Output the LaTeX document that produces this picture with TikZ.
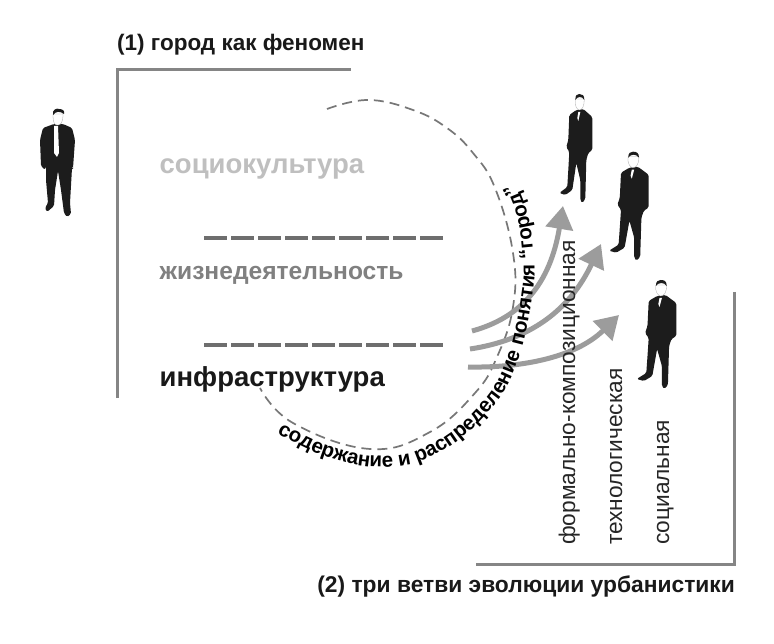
\documentclass[tikz,border=0pt]{standalone}
\usepackage{fontspec}
\setmainfont{Liberation Sans}
\usepackage{xcolor}
\usepackage{tikz}
\usetikzlibrary{arrows.meta}
\usetikzlibrary{decorations.text}
\definecolor{frameg}{HTML}{858585}
\definecolor{dashg}{HTML}{6E6E6E}
\definecolor{curveg}{HTML}{777777}
\definecolor{arrowg}{HTML}{9C9C9C}
\definecolor{suit}{HTML}{1C1C1C}
\tikzset{
	frameline/.style={draw=frameg,line width=3pt},
	dashline/.style={draw=dashg,line width=4pt,dash pattern=on 22.5pt off 4.5pt},
	dashcurve/.style={draw=curveg,line width=1.7pt,dash pattern=on 10pt off 6pt},
	flowarrow/.style={draw=arrowg,line width=5pt,-{Triangle[length=23pt,width=27pt,fill=arrowg]}},
	biglabel/.style={anchor=base west,inner sep=0pt},
	headlabel/.style={font=\fontsize{22.5}{24}\selectfont\bfseries,inner sep=0pt,text=black!90},
	sidelabel/.style={font=\fontsize{22.7}{24}\selectfont,rotate=90,anchor=base west,inner sep=0pt,text=black!85},
	mana/.pic={
		% frontal figure, white tie
		\fill[suit,rounded corners=1.5pt] (14,16) -- (3,20) -- (0,32) -- (1,58) -- (5,62) -- (6,58) -- (6,72) -- (8,95) -- (5,100) -- (7,104) -- (14,98) -- (15,82) -- (18,63)
			-- (21,82) -- (24,105) -- (27,109) -- (31,106) -- (30,95) -- (32,60) -- (33,60) -- (35,32) -- (32,20) -- (23,16) -- cycle;
		\filldraw[fill=white,draw=black!35,line width=.3pt] (13,6) .. controls (13,17) and (15,17) .. (18,17) .. controls (21,17) and (23,14) .. (23,6) -- cycle;
		\fill[suit] (13,7) .. controls (12,1) and (17,0) .. (19,1) .. controls (23,1) and (25,3) .. (24,6) .. controls (20,3) and (16,3) .. (13,7) -- cycle;
		\fill[white] (14,18) -- (18,18) -- (19,45) -- (17,49) -- (14,45) -- cycle;
	},
	manb/.pic={
		% three-quarter figure, small tie
		\fill[suit,rounded corners=1.5pt] (17,16) -- (10,21) -- (9,46) -- (7,53) -- (10,58) -- (9,76) -- (8,93) -- (0,99) -- (6,101) -- (13,96) -- (17,69) -- (21,86) -- (21,106) -- (23,109) -- (26,105)
			-- (27,66) -- (29,59) -- (33,56) -- (33,23) -- (24,15) -- cycle;
		\filldraw[fill=white,draw=black!35,line width=.3pt] (16,5) .. controls (15,12) and (18,16) .. (20,16) .. controls (23,16) and (25,12) .. (25,5) -- cycle;
		\fill[suit] (16,6) .. controls (16,1) and (18,0) .. (20,0) .. controls (23,0) and (25,1) .. (25,6) .. controls (23,2) and (18,2) .. (16,6) -- cycle;
		\fill[white] (19,18) -- (21,18) -- (19,27) -- (18,24) -- cycle;
	},
}
\begin{document}
\begin{tikzpicture}[x=1pt,y=-1pt]
	\useasboundingbox[fill=white] (0,0) rectangle (774,644);
	% frames
	\coordinate (f1a) at (117,398);
	\coordinate (f1b) at (117,70);
	\coordinate (f1c) at (351,70);
	\coordinate (f2a) at (734,292);
	\coordinate (f2b) at (734,564);
	\coordinate (f2c) at (476,564);
	\draw[frameline] (f1a) -- (f1b) -- (f1c);
	\draw[frameline] (f2a) -- (f2b) -- (f2c);
	% dashed levels
	\foreach \y/\alph in {238/d1,345/d2}{
		\coordinate (\alph l) at (204,\y);
		\coordinate (\alph r) at (443,\y);
		\draw[dashline] (\alph l) -- (\alph r);
	}
	% curve
	\draw[dashcurve] plot[smooth,tension=.7] coordinates {(327,109) (368,100) (413,110) (447,128) (473,153) (495,188) (513,253) (513,307) (497,357) (475,393) (430,432) (370,449) (293,423) (260,388)};
	% arrows
	\foreach \a/\b/\ca/\cb in {472/331/563/206,470/349/601/244,468/367/619/315}{
		\coordinate (s\a) at (\a,\b);
		\coordinate (t\a) at (\ca,\cb);
	}
	\draw[flowarrow] (s472) .. controls (520,318) and (550,285) .. (t472);
	\draw[flowarrow] (s470) .. controls (530,340) and (570,310) .. (t470);
	\draw[flowarrow] (s468) .. controls (520,368) and (575,358) .. (t468);
	% text on the curve
	\path[decorate,decoration={text along path,text align={left indent=0pt},
		text={|\fontsize{20.5}{22}\selectfont\bfseries|содержание и распределение понятия “город”}}]
		plot[smooth,tension=.7] coordinates {(277,433) (330,458) (387,467) (440,452) (490,410) (518,360) (533,290) (533,250) (525,205) (505,165) (490,140)};
	% people
	\foreach \x/\y/\alph/\name/\sx in {
			40/108/p1/mana/1,
			559.3/94/p2/manb/1,
			609/151.7/p3/manb/1.2,
			636.7/280/p4/manb/1.2}{
		\pic[xscale=\sx] (\alph) at (\x,\y) {\name};
	}
	% labels
	\node[headlabel,anchor=west] (t1) at (117,45) {(1) город как феномен};
	\node[headlabel,anchor=east,font=\fontsize{22.8}{24}\selectfont\bfseries] (t2) at (735,587) {(2) три ветви эволюции урбанистики};
	\foreach \y/\alph/\col/\fs/\name in {
			174/l1/black!25/27.5/социокультура,
			280/l2/black!50/24.6/жизнедеятельность,
			387/l3/black!90/27.5/инфраструктура}{
		\node[biglabel,text=\col,font=\fontsize{\fs}{28}\selectfont\bfseries] (\alph) at (159.5,\y) {\name};
	}
	\foreach \x/\alph/\name in {
			575/s1/формально-композиционная,
			622/s2/технологическая,
			669/s3/социальная}{
		\node[sidelabel] (\alph) at (\x,545) {\name};
	}
\end{tikzpicture}
\end{document}
